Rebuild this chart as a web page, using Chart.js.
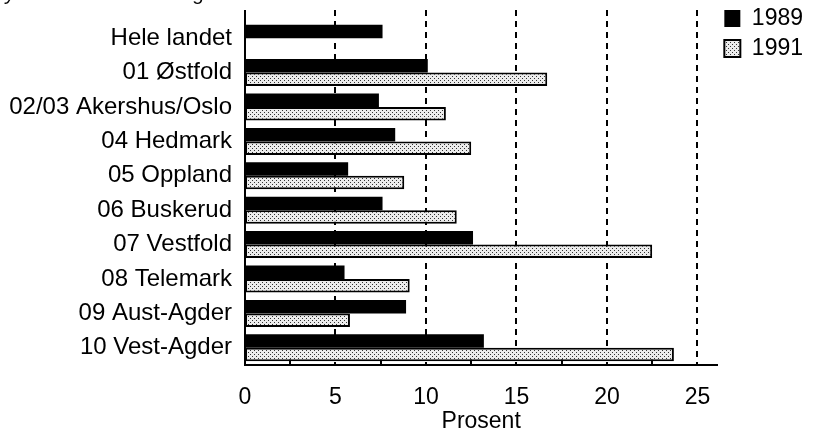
<!DOCTYPE html>
<html><head><meta charset="utf-8">
<script src="https://cdn.jsdelivr.net/npm/chart.js@4.4.1/dist/chart.umd.min.js"></script>
<style>html,body{margin:0;padding:0;background:#fff;}canvas{display:block;}</style>
</head><body>
<canvas id="c" width="813" height="439"></canvas>
<script>
const categories = ["Hele landet","01 Østfold","02/03 Akershus/Oslo","04 Hedmark","05 Oppland","06 Buskerud","07 Vestfold","08 Telemark","09 Aust-Agder","10 Vest-Agder"];
const values1989 = [7.6, 10.1, 7.4, 8.3, 5.7, 7.6, 12.6, 5.5, 8.9, 13.2];
const values1991 = [null, 16.7, 11.1, 12.5, 8.8, 11.7, 22.5, 9.1, 5.8, 23.7];
const seriesNames = ["1989", "1991"];
const xTicks = [0, 5, 10, 15, 20, 25];
const xMax = 26.1;
const titleText = "fylke. Prosent. 1989 og 1991.";
const axisTitle = "Prosent";

const FONT = "'Liberation Sans', Arial, Helvetica, sans-serif";

function stipple() {
  const t = document.createElement('canvas');
  t.width = 4; t.height = 4;
  const g = t.getContext('2d');
  g.fillStyle = '#ececec'; g.fillRect(0, 0, 4, 4);
  g.fillStyle = '#333'; g.fillRect(0, 0, 1, 1); g.fillRect(2, 2, 1, 1);
  return document.getElementById('c').getContext('2d').createPattern(t, 'repeat');
}

const frame = {
  id: 'frame',
  beforeDatasetsDraw(chart) {
    const {ctx, chartArea: a, scales: {x}} = chart;
    const top = a.top - 11;
    ctx.save();
    ctx.strokeStyle = '#000';
    ctx.lineWidth = 2;
    ctx.setLineDash([6, 5]);
    xTicks.forEach(v => {
      if (v === 0) return;
      const px = Math.round(x.getPixelForValue(v));
      ctx.beginPath(); ctx.moveTo(px, top); ctx.lineTo(px, a.bottom); ctx.stroke();
    });
    ctx.setLineDash([]);
    for (let i = 0; i < xTicks.length - 1; i++) {
      const px = Math.round(x.getPixelForValue((xTicks[i] + xTicks[i + 1]) / 2));
      ctx.beginPath(); ctx.moveTo(px, a.bottom); ctx.lineTo(px, a.bottom - 6); ctx.stroke();
    }
    ctx.beginPath(); ctx.moveTo(a.left, top); ctx.lineTo(a.left, a.bottom); ctx.stroke();
    ctx.restore();
  }
};

new Chart(document.getElementById('c'), {
  type: 'bar',
  data: {
    labels: categories,
    datasets: [
      { label: seriesNames[0], data: values1989, backgroundColor: '#000', borderWidth: 0 },
      { label: seriesNames[1], data: values1991, backgroundColor: stipple(), borderColor: '#000', borderWidth: 2, borderSkipped: false }
    ]
  },
  options: {
    responsive: false,
    animation: false,
    devicePixelRatio: 1,
    indexAxis: 'y',
    layout: { padding: 0 },
    datasets: { bar: { categoryPercentage: 0.785, barPercentage: 1 } },
    plugins: {
      legend: {
        position: 'right', align: 'start',
        labels: { boxWidth: 16, boxHeight: 17, padding: 7, color: '#000', font: { family: FONT, size: 23 } }
      },
      title: {
        display: true, text: titleText, align: 'start', color: '#000',
        font: { family: FONT, size: 20, style: 'italic', weight: 'normal' },
        padding: { top: -18, bottom: 15 }
      },
      tooltip: { enabled: false }
    },
    scales: {
      x: {
        type: 'linear', min: 0, max: xMax,
        afterBuildTicks(s) { s.ticks = xTicks.map(v => ({ value: v })); },
        grid: { display: false, drawTicks: false },
        border: { display: true, color: '#000', width: 2 },
        ticks: { color: '#000', padding: 19, font: { family: FONT, size: 23 } },
        title: { display: true, text: axisTitle, color: '#000', font: { family: FONT, size: 23 }, padding: { top: 0, bottom: 4 } },
        afterFit(s) { s.height = 74; }
      },
      y: {
        grid: { display: false, drawTicks: false },
        border: { display: false },
        ticks: { color: '#000', padding: 13, autoSkip: false, font: { family: FONT, size: 24 } },
        afterFit(s) { s.width = 245; s.paddingTop = 0; s.paddingBottom = 0; }
      }
    }
  },
  plugins: [frame]
});
</script>
</body></html>
